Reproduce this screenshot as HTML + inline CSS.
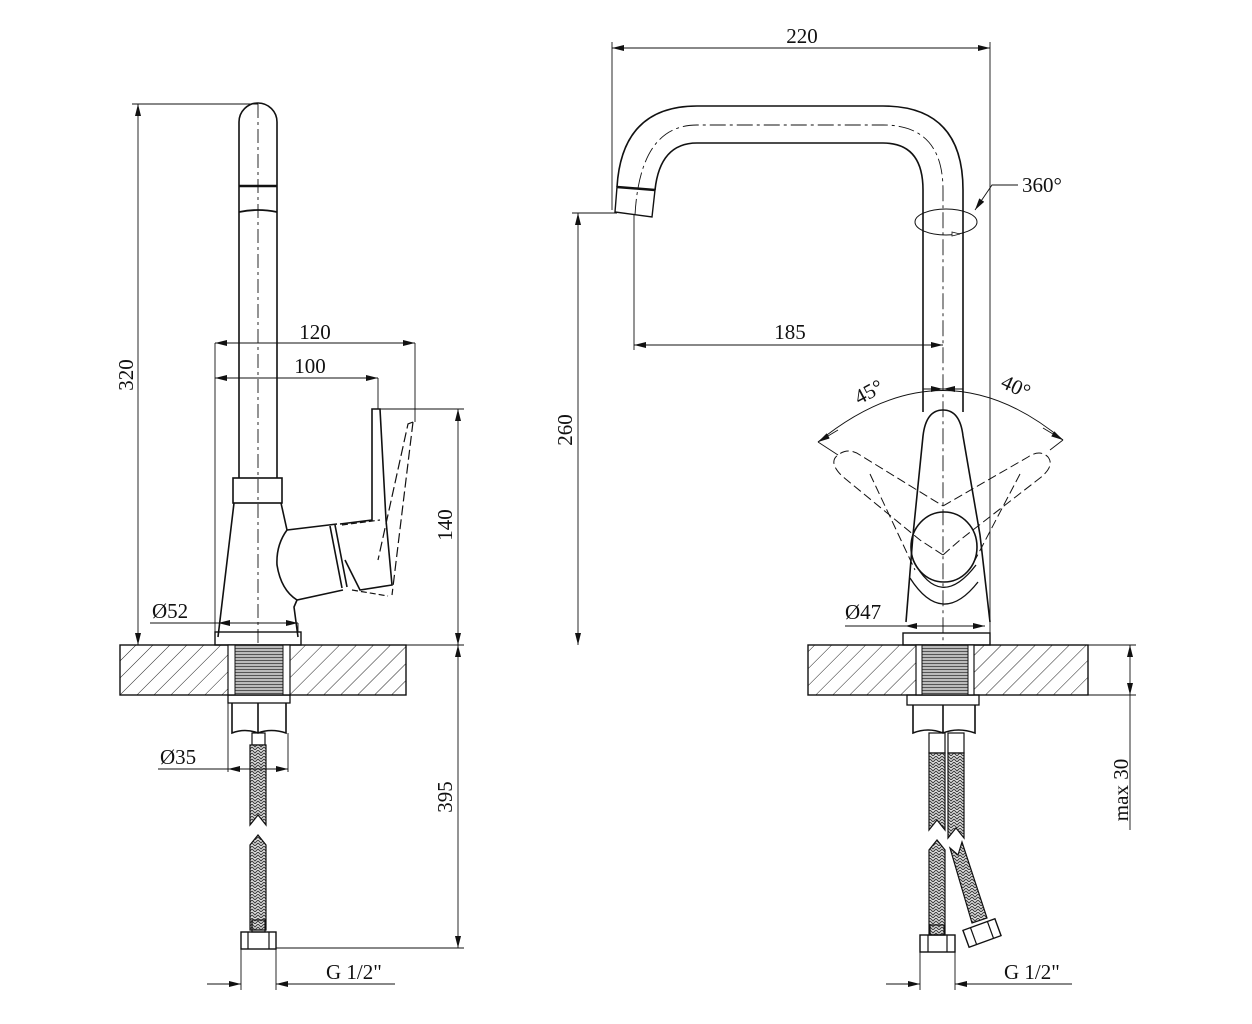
<!DOCTYPE html>
<html><head><meta charset="utf-8"><style>
html,body{margin:0;padding:0;background:#fff}
svg{display:block}
text{font-family:"Liberation Serif",serif;font-size:21px;fill:#111}
</style></head><body>
<svg width="1252" height="1024" viewBox="0 0 1252 1024" xmlns="http://www.w3.org/2000/svg">
<defs>
<pattern id="hat" width="12" height="12" patternUnits="userSpaceOnUse" patternTransform="rotate(45)">
<line x1="0" y1="0" x2="0" y2="12" stroke="#222" stroke-width="1"/>
</pattern>
<pattern id="thr" width="4" height="3" patternUnits="userSpaceOnUse">
<rect width="4" height="3" fill="#bbb"/><line x1="0" y1="0.5" x2="4" y2="0.5" stroke="#555" stroke-width="1"/>
</pattern>
<pattern id="braid" width="6" height="6" patternUnits="userSpaceOnUse">
<rect width="6" height="6" fill="#ddd"/><path d="M0 0 L3 3 L6 0 M0 3 L3 6 L6 3" stroke="#333" fill="none" stroke-width="0.9"/>
</pattern>
<marker id="a" viewBox="0 0 12 6" refX="12" refY="3" markerWidth="12" markerHeight="6" orient="auto-start-reverse" markerUnits="userSpaceOnUse">
<path d="M0 0 L12 3 L0 6 Z" fill="#111"/></marker>
</defs>
<g fill="none" stroke="#111" stroke-width="1.2">

<!-- ========== LEFT VIEW ========== -->
<line x1="132" y1="104" x2="258" y2="104" stroke-width="0.9"/>
<line x1="138" y1="104" x2="138" y2="645" marker-start="url(#a)" marker-end="url(#a)" stroke-width="0.9"/>
<path d="M239 478 L239 122 A19 19 0 0 1 277 122 L277 478" stroke-width="1.6"/>
<line x1="239" y1="186" x2="277" y2="186" stroke-width="2.5"/>
<path d="M239 212 Q258 208 277 212" stroke-width="1.8"/>
<line x1="258" y1="104" x2="258" y2="652" stroke-dasharray="14 4 3 4" stroke-width="0.9"/>
<rect x="233" y="478" width="49" height="25" stroke-width="1.6"/>
<path d="M234 503 L218 637 M281 503 L287 530 L337 524 M287 530 Q276 545 277 565 Q281 590 297 600 L343 590 M297 600 L294 607 L298 637" stroke-width="1.6"/>
<path d="M330 526 L342 588 M335 525 L347 587" stroke-width="1.6"/>
<path d="M340 524 L372 520 L372 409 L380 409 L386 520 L392 585 L360 590 L345 560" stroke-width="1.6"/>
<path d="M342 525 L380 520 M352 590 L388 596" stroke-dasharray="6 3"/>
<path d="M413 422 L408 424 L378 560 M413 422 L392 595" stroke-dasharray="10 4"/>
<rect x="215" y="632" width="86" height="13" stroke-width="1.4"/>
<line x1="215" y1="343" x2="215" y2="632" stroke-width="0.9"/>
<line x1="415" y1="343" x2="415" y2="422" stroke-width="0.9"/>
<line x1="215" y1="343" x2="415" y2="343" marker-start="url(#a)" marker-end="url(#a)" stroke-width="0.9"/>
<line x1="378" y1="378" x2="378" y2="409" stroke-width="0.9"/>
<line x1="215" y1="378" x2="378" y2="378" marker-start="url(#a)" marker-end="url(#a)" stroke-width="0.9"/>
<line x1="378" y1="409" x2="464" y2="409" stroke-width="0.9"/>
<line x1="458" y1="409" x2="458" y2="645" marker-start="url(#a)" marker-end="url(#a)" stroke-width="0.9"/>
<line x1="150" y1="623" x2="298" y2="623" stroke-width="0.9"/>
<line x1="218" y1="623" x2="298" y2="623" marker-start="url(#a)" marker-end="url(#a)" stroke-width="0.9"/>
<line x1="298" y1="623" x2="298" y2="632" stroke-width="0.9"/>
<rect x="120" y="645" width="286" height="50" fill="url(#hat)" stroke-width="1.4"/>
<rect x="228" y="645" width="62" height="50" fill="#fff" stroke-width="1.2"/>
<rect x="235" y="645" width="48" height="50" fill="url(#thr)" stroke-width="1"/>
<line x1="120" y1="645" x2="464" y2="645" stroke-width="0.9"/>
<rect x="228" y="695" width="62" height="8" stroke-width="1.3"/>
<path d="M232 703 L232 733 Q245 728 258 733 Q271 728 286 733 L286 703 M258 703 L258 733" stroke-width="1.6"/>
<rect x="252" y="733" width="13" height="12"/>
<path d="M250 745 L250 825 L258 815 L266 825 L266 745 Z" fill="url(#braid)"/>
<path d="M250 930 L250 845 L258 835 L266 845 L266 930 Z" fill="url(#braid)"/>
<rect x="252" y="920" width="13" height="12"/>
<rect x="241" y="932" width="35" height="17" stroke-width="1.4"/>
<line x1="248" y1="932" x2="248" y2="949"/><line x1="269" y1="932" x2="269" y2="949"/>
<line x1="228" y1="703" x2="228" y2="772" stroke-width="0.9"/>
<line x1="288" y1="733" x2="288" y2="772" stroke-width="0.9"/>
<line x1="158" y1="769" x2="228" y2="769" stroke-width="0.9"/>
<line x1="228" y1="769" x2="288" y2="769" marker-start="url(#a)" marker-end="url(#a)" stroke-width="0.9"/>
<line x1="458" y1="645" x2="458" y2="948" marker-start="url(#a)" marker-end="url(#a)" stroke-width="0.9"/>
<line x1="276" y1="948" x2="464" y2="948" stroke-width="0.9"/>
<line x1="241" y1="949" x2="241" y2="990" stroke-width="0.9"/>
<line x1="276" y1="949" x2="276" y2="990" stroke-width="0.9"/>
<line x1="207" y1="984" x2="241" y2="984" marker-end="url(#a)" stroke-width="0.9"/>
<line x1="395" y1="984" x2="276" y2="984" marker-end="url(#a)" stroke-width="0.9"/>

<!-- ========== RIGHT VIEW ========== -->
<line x1="612" y1="42" x2="612" y2="210" stroke-width="0.9"/>
<line x1="990" y1="42" x2="990" y2="645" stroke-width="0.9"/>
<line x1="612" y1="48" x2="990" y2="48" marker-start="url(#a)" marker-end="url(#a)" stroke-width="0.9"/>
<path d="M617 187 Q622 106 697 106 L883 106 Q963 106 963 190 L963 412" stroke-width="1.6"/>
<path d="M655 190 Q660 143 697 143 L883 143 Q923 143 923 190 L923 412" stroke-width="1.6"/>
<path d="M617 187 L655 190 L652 217 L615 212 Z" stroke-width="1.4"/>
<line x1="617" y1="187" x2="655" y2="190" stroke-width="2.5"/>
<path d="M635 215 Q640 125 697 125 L883 125 Q943 125 943 190 L943 645" stroke-dasharray="16 4 3 4" stroke-width="0.9"/>
<ellipse cx="946" cy="222" rx="31" ry="13" stroke-width="1"/>
<path d="M1018 185 L992 185 L975 210" stroke-width="0.9" marker-end="url(#a)"/>
<path d="M952 236 L960 234 L952 232 Z" fill="#fff" stroke-width="0.8"/>
<line x1="572" y1="213" x2="617" y2="213" stroke-width="0.9"/>
<line x1="578" y1="213" x2="578" y2="645" marker-start="url(#a)" marker-end="url(#a)" stroke-width="0.9"/>
<line x1="634" y1="215" x2="634" y2="350" stroke-width="0.9"/>
<line x1="634" y1="345" x2="943" y2="345" marker-start="url(#a)" marker-end="url(#a)" stroke-width="0.9"/>
<path d="M818 442 Q943 340 1063 440" stroke-width="0.9"/>
<line x1="923" y1="389" x2="943" y2="389" marker-end="url(#a)" stroke-width="0.9"/>
<line x1="963" y1="389" x2="943" y2="389" marker-end="url(#a)" stroke-width="0.9"/>
<path d="M838 430 L818 442" stroke-width="0.9" marker-end="url(#a)"/>
<path d="M1043 428 L1063 440" stroke-width="0.9" marker-end="url(#a)"/>
<line x1="818" y1="442" x2="838" y2="455" stroke-width="0.9"/>
<line x1="1063" y1="440" x2="1050" y2="450" stroke-width="0.9"/>
<path d="M923 436 Q926 410 943 410 Q960 410 963 436 L980 535 L990 622 M923 436 L913 535 L906 622" stroke-width="1.6"/>
<ellipse cx="944" cy="547" rx="33" ry="35" stroke-width="1.6"/>
<path d="M913 560 Q940 612 976 565 M910 578 Q942 628 978 582" stroke-width="1.3"/>
<!-- dashed levers -->
<path d="M943 555 L920 540 L842 476 Q828 462 838 455 Q848 447 860 455 L943 506" stroke-dasharray="9 4" stroke-width="1"/>
<path d="M943 555 L960 540 L1040 478 Q1055 466 1048 457 Q1040 449 1028 457 L943 506" stroke-dasharray="9 4" stroke-width="1"/>
<path d="M870 474 L915 570 M1020 474 L975 560" stroke-dasharray="9 4" stroke-width="1"/>
<line x1="845" y1="626" x2="905" y2="626" stroke-width="0.9"/>
<line x1="905" y1="626" x2="985" y2="626" marker-start="url(#a)" marker-end="url(#a)" stroke-width="0.9"/>
<rect x="903" y="633" width="87" height="12" stroke-width="1.4"/>
<rect x="808" y="645" width="280" height="50" fill="url(#hat)" stroke-width="1.4"/>
<rect x="916" y="645" width="58" height="50" fill="#fff"/>
<rect x="922" y="645" width="46" height="50" fill="url(#thr)" stroke-width="1"/>
<line x1="1088" y1="645" x2="1136" y2="645" stroke-width="0.9"/>
<line x1="1088" y1="695" x2="1136" y2="695" stroke-width="0.9"/>
<line x1="1130" y1="645" x2="1130" y2="695" marker-start="url(#a)" marker-end="url(#a)" stroke-width="0.9"/>
<line x1="1130" y1="695" x2="1130" y2="830" stroke-width="0.9"/>
<rect x="907" y="695" width="72" height="10" stroke-width="1.3"/>
<path d="M913 705 L913 733 Q928 727 943 733 Q958 727 975 733 L975 705 M943 705 L943 733" stroke-width="1.6"/>
<rect x="929" y="733" width="16" height="20"/><rect x="948" y="733" width="16" height="20"/>
<path d="M929 753 L929 830 L937 820 L945 830 L945 753 Z" fill="url(#braid)"/>
<path d="M948 753 L948 838 L956 828 L964 838 L964 753 Z" fill="url(#braid)"/>
<path d="M929 935 L929 850 L937 840 L945 850 L945 935 Z" fill="url(#braid)"/>
<path d="M950 848 L958 855 L962 842 L987 918 L972 923 Z" fill="url(#braid)"/>
<rect x="930" y="925" width="14" height="10"/>
<rect x="920" y="935" width="35" height="17" stroke-width="1.4"/>
<line x1="928" y1="935" x2="928" y2="952"/><line x1="947" y1="935" x2="947" y2="952"/>
<g transform="rotate(-20 982 933)"><rect x="965" y="924" width="34" height="18" stroke-width="1.4"/><line x1="973" y1="924" x2="973" y2="942"/><line x1="991" y1="924" x2="991" y2="942"/></g>
<line x1="920" y1="952" x2="920" y2="990" stroke-width="0.9"/>
<line x1="955" y1="952" x2="955" y2="990" stroke-width="0.9"/>
<line x1="886" y1="984" x2="920" y2="984" marker-end="url(#a)" stroke-width="0.9"/>
<line x1="1072" y1="984" x2="955" y2="984" marker-end="url(#a)" stroke-width="0.9"/>
</g>

<text x="133" y="375" text-anchor="middle" transform="rotate(-90 133 375)">320</text>
<text x="315" y="339" text-anchor="middle">120</text>
<text x="310" y="373" text-anchor="middle">100</text>
<text x="452" y="525" text-anchor="middle" transform="rotate(-90 452 525)">140</text>
<text x="152" y="618">Ø52</text>
<text x="160" y="764">Ø35</text>
<text x="452" y="797" text-anchor="middle" transform="rotate(-90 452 797)">395</text>
<text x="326" y="979">G 1/2"</text>
<text x="802" y="43" text-anchor="middle">220</text>
<text x="1022" y="192">360°</text>
<text x="572" y="430" text-anchor="middle" transform="rotate(-90 572 430)">260</text>
<text x="790" y="339" text-anchor="middle">185</text>
<text x="872" y="398" text-anchor="middle" transform="rotate(-28 872 398)">45°</text>
<text x="1013" y="393" text-anchor="middle" transform="rotate(25 1013 393)">40°</text>
<text x="845" y="619">Ø47</text>
<text x="1128" y="790" text-anchor="middle" transform="rotate(-90 1128 790)">max 30</text>
<text x="1004" y="979">G 1/2"</text>
</svg>
</body></html>
